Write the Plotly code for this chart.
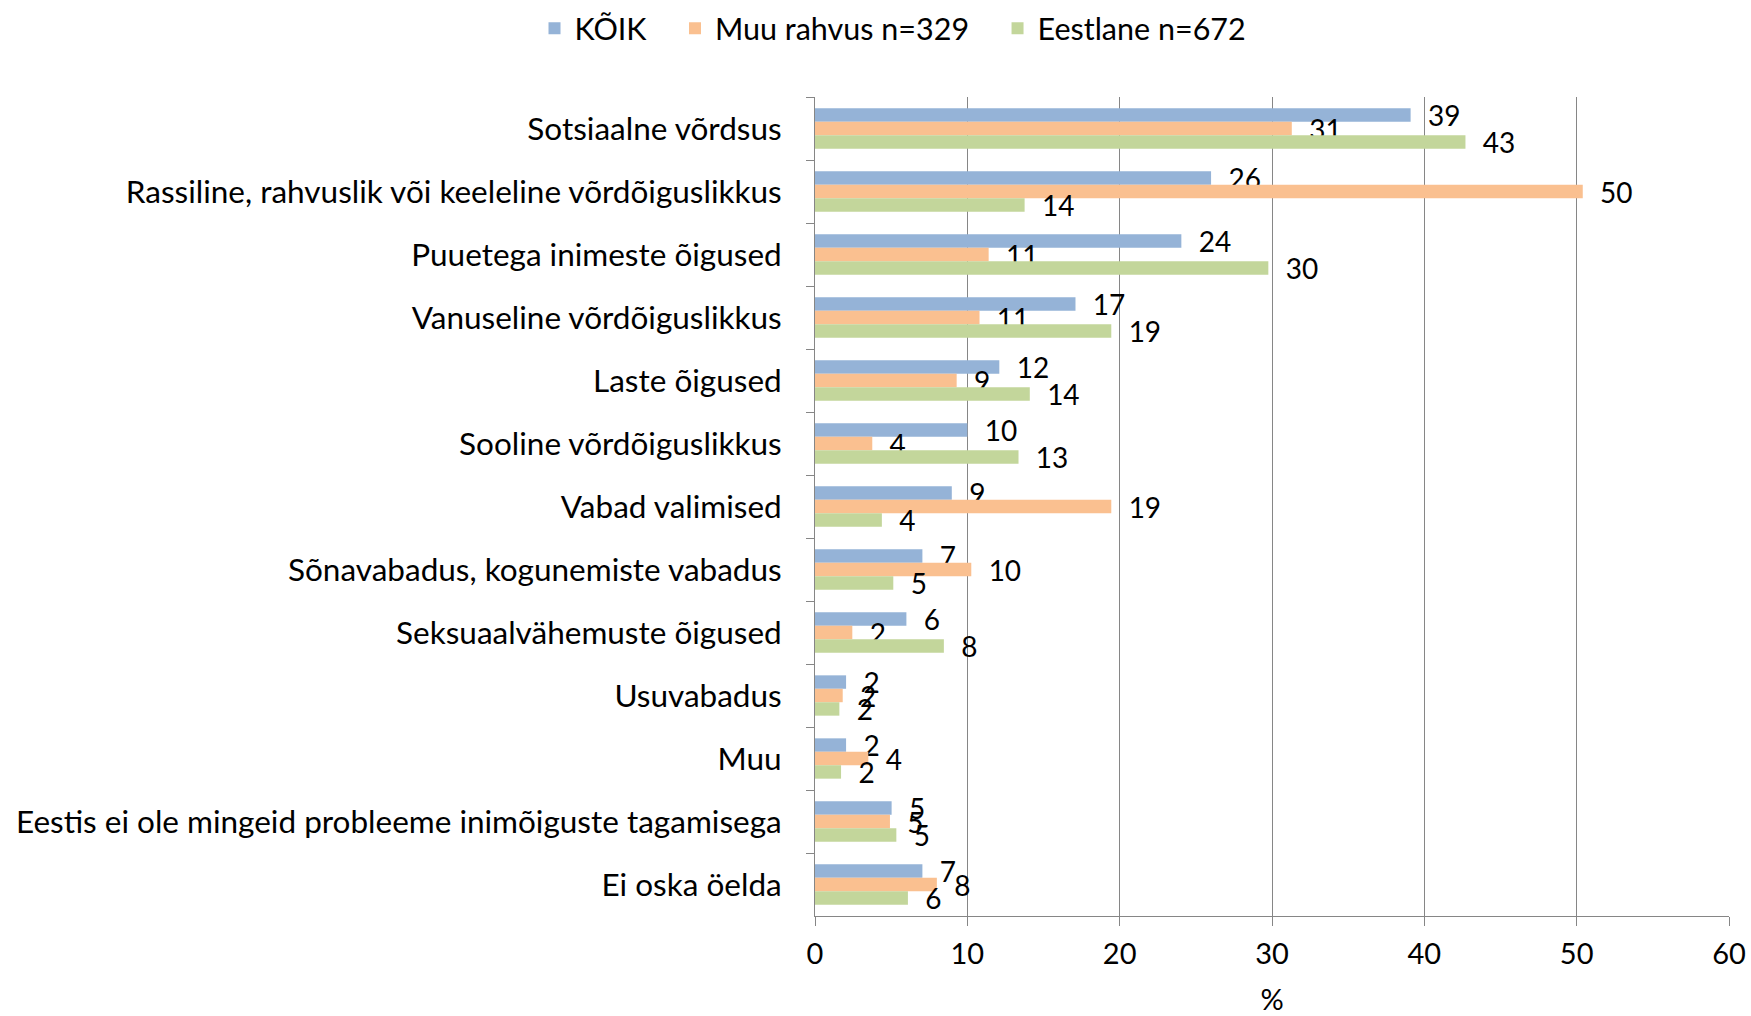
import plotly.graph_objects as go

# categories top to bottom
categories = [
    "Sotsiaalne võrdsus",
    "Rassiline, rahvuslik või keeleline võrdõiguslikkus",
    "Puuetega inimeste õigused",
    "Vanuseline võrdõiguslikkus",
    "Laste õigused",
    "Sooline võrdõiguslikkus",
    "Vabad valimised",
    "Sõnavabadus, kogunemiste vabadus",
    "Seksuaalvähemuste õigused",
    "Usuvabadus",
    "Muu",
    "Eestis ei ole mingeid probleeme inimõiguste tagamisega",
    "Ei oska öelda",
]

koik = [39.1, 26.0, 24.05, 17.1, 12.1, 10.0, 8.98, 7.05, 6.0, 2.04, 2.04, 5.03, 7.05]
muu_rahvus = [31.3, 50.4, 11.4, 10.8, 9.3, 3.76, 19.45, 10.26, 2.45, 1.82, 3.5, 4.92, 8.0]
eestlane = [42.7, 13.76, 29.76, 19.45, 14.1, 13.36, 4.39, 5.14, 8.46, 1.6, 1.71, 5.34, 6.1]

series = [
    ("KÕIK", koik, "#95B3D7"),
    ("Muu rahvus n=329", muu_rahvus, "#FAC090"),
    ("Eestlane n=672", eestlane, "#C3D69B"),
]

FONT = "Lato"
GRID = "#868686"
PAD = "\u00a0" * 3  # extra room between legend entries

fig = go.Figure()
for i, (name, vals, col) in enumerate(series):
    fig.add_trace(go.Bar(
        y=categories, x=vals, orientation="h",
        name=name + (PAD if i < len(series) - 1 else ""),
        marker=dict(color=col, line=dict(width=0)),
        texttemplate="\u00a0\u00a0%{x:.0f}", textposition="outside",
        textfont=dict(family=FONT, size=28, color="#000000"),
        constraintext="none", cliponaxis=False,
    ))

fig.update_layout(
    width=1751, height=1016,
    barmode="group", bargap=0.36, bargroupgap=0,
    plot_bgcolor="white", paper_bgcolor="white",
    margin=dict(l=815, r=22, t=97, b=100, autoexpand=False),
    font=dict(family=FONT, size=31, color="#000000"),
    legend=dict(
        orientation="h", xref="container", yref="container",
        x=0.51, y=0.972, xanchor="center", yanchor="middle",
        font=dict(family=FONT, size=30.5), traceorder="normal",
    ),
    xaxis=dict(
        range=[0, 60], dtick=10, showgrid=True, gridcolor=GRID, gridwidth=1,
        showline=True, linecolor=GRID, linewidth=1, zeroline=False,
        ticks="outside", ticklen=9, tickcolor=GRID,
        tickfont=dict(size=29), ticklabelstandoff=3, automargin=True,
        title=dict(text="%", standoff=36, font=dict(size=29)),
    ),
    yaxis=dict(
        autorange="reversed", showgrid=False, showline=True,
        linecolor=GRID, linewidth=1,
        ticks="outside", ticklen=8, tickcolor=GRID, tickson="boundaries",
        tickfont=dict(size=31.5), ticklabelstandoff=26,
    ),
)

# page body has a default margin, remove it so the figure sits at 0,0
fig.write_html("out.html", config={"displayModeBar": False},
               post_script="document.body.style.margin='0';")
